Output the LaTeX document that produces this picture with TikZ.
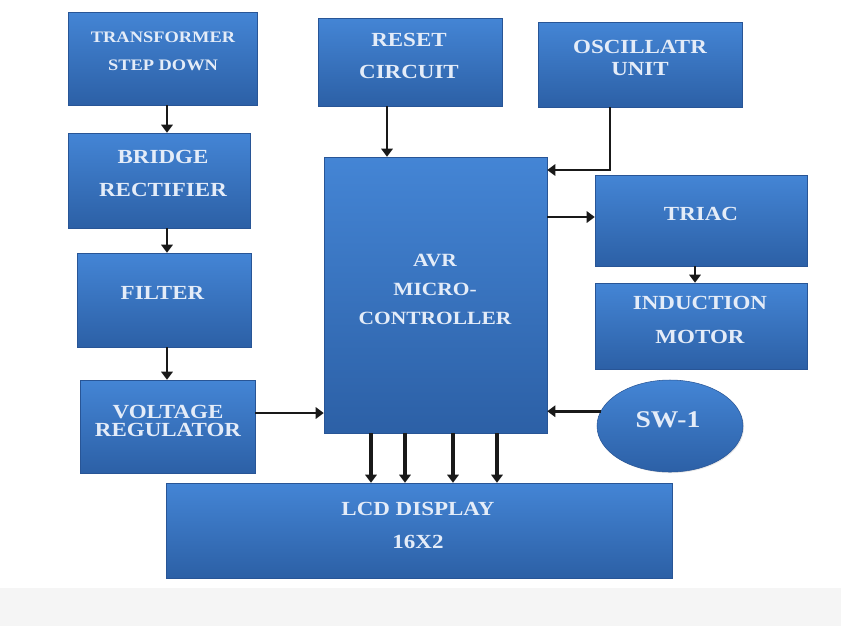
\documentclass[tikz,border=0pt]{standalone}
\usepackage{fontspec}
\newfontfamily\boxfont[FakeStretch=1.15]{Liberation Serif}
\usetikzlibrary{arrows.meta,calc,shapes.geometric,shadows}
\definecolor{boxtop}{RGB}{68,133,213}
\definecolor{boxbot}{RGB}{44,96,166}
\definecolor{boxedge}{RGB}{40,85,150}
\definecolor{txtc}{RGB}{228,236,248}
\definecolor{arrc}{RGB}{25,25,25}
\definecolor{bandc}{RGB}{245,245,245}
\begin{document}
\begin{tikzpicture}[x=0.75pt,y=-0.75pt,
  blk/.style={rectangle, draw=boxedge, line width=0.4pt, top color=boxtop, bottom color=boxbot, inner sep=0pt,
    drop shadow={opacity=0.18, shadow xshift=0.8pt, shadow yshift=-0.8pt}},
  oval/.style={ellipse, draw=boxedge, line width=0.4pt, top color=boxtop, bottom color=boxbot, inner sep=0pt,
    drop shadow={opacity=0.18, shadow xshift=0.8pt, shadow yshift=-0.8pt}},
  lbl/.style 2 args={text=txtc, align=center, inner sep=0pt, font=\boxfont\bfseries\fontsize{#1}{#2}\selectfont},
  arr/.style={draw=arrc, line width=2pt, -{Triangle[length=6pt,width=8.5pt]}},
  arrb/.style={arr, line width=2.4pt}]
\useasboundingbox (0,0) rectangle (841,626);
\fill[white] (0,0) rectangle (841,626);
\fill[bandc] (0,588) rectangle (841,626);

% blocks
\node[blk, minimum width=141.75pt, minimum height=69.75pt] (trans) at (162.5,58.5) {};
\node[blk, minimum width=136.5pt, minimum height=71.25pt] (bridge) at (159,180.5) {};
\node[blk, minimum width=130.5pt, minimum height=70.5pt] (filter) at (164,300) {};
\node[blk, minimum width=131.25pt, minimum height=69.75pt] (vr) at (167.5,426.5) {};
\node[blk, minimum width=138pt, minimum height=66pt] (reset) at (410,62) {};
\node[blk, minimum width=153pt, minimum height=63.75pt] (osc) at (640,64.5) {};
\node[blk, minimum width=167.25pt, minimum height=207pt] (avr) at (435.5,295) {};
\node[blk, minimum width=159pt, minimum height=68.25pt] (triac) at (701,220.5) {};
\node[blk, minimum width=159pt, minimum height=64.5pt] (ind) at (701,326) {};
\node[oval, minimum width=109.5pt, minimum height=69pt] (sw) at (670,426) {};
\node[blk, minimum width=379.5pt, minimum height=71.25pt] (lcd) at (419,530.5) {};

% labels
\node[lbl={12}{21pt}] (transT) at (163,51) {TRANSFORMER\\STEP DOWN};
\node[lbl={15}{24.75pt}] (bridgeT) at (163,173.5) {BRIDGE\\RECTIFIER};
\node[lbl={15}{18pt}] (filterT) at (162.5,293) {FILTER};
\node[lbl={15}{13.8pt}] (vrT) at (168,421) {VOLTAGE\\REGULATOR};
\node[lbl={15}{24pt}] (resetT) at (409,56) {RESET\\CIRCUIT};
\node[lbl={15}{16.5pt}] (oscT) at (640,58) {OSCILLATR\\UNIT};
\node[lbl={14}{21.75pt}] (avrT) at (435,289) {AVR\\MICRO-\\CONTROLLER};
\node[lbl={15}{18pt}] (triacT) at (701,214) {TRIAC};
\node[lbl={15}{25.5pt}] (indT) at (700,320) {INDUCTION\\MOTOR};
\node[lbl={18}{20pt}] (swT) at (668,420) {SW-1};
\node[lbl={15}{24.75pt}] (lcdT) at (418,525.5) {LCD DISPLAY\\16X2};

% helper coordinates
\coordinate (colx) at (167,0);
\coordinate (rx) at (387,0);
\coordinate (vy) at (0,413);
\coordinate (ty) at (0,217);
\coordinate (ix) at (695,0);
\coordinate (ox) at (610,0);
\coordinate (oy) at (0,170);
\coordinate (l1) at (371,0);
\coordinate (l2) at (405,0);
\coordinate (l3) at (453,0);
\coordinate (l4) at (497,0);

% connectors
\draw[arr] (trans.south -| colx) -- (bridge.north -| colx);
\draw[arr] (bridge.south -| colx) -- (filter.north -| colx);
\draw[arr] (filter.south -| colx) -- (vr.north -| colx);
\draw[arr] (vr.east |- vy) -- (avr.west |- vy);
\draw[arr] (reset.south -| rx) -- (avr.north -| rx);
\draw[arr] (osc.south -| ox) |- (avr.east |- oy);
\draw[arr] (avr.east |- ty) -- (triac.west |- ty);
\draw[arr] (triac.south -| ix) -- (ind.north -| ix);
\draw[arr] (sw.168) -- (avr.east |- sw.168);
\draw[arrb] (avr.south -| l1) -- (lcd.north -| l1);
\draw[arrb] (avr.south -| l2) -- (lcd.north -| l2);
\draw[arrb] (avr.south -| l3) -- (lcd.north -| l3);
\draw[arrb] (avr.south -| l4) -- (lcd.north -| l4);
\end{tikzpicture}
\end{document}
